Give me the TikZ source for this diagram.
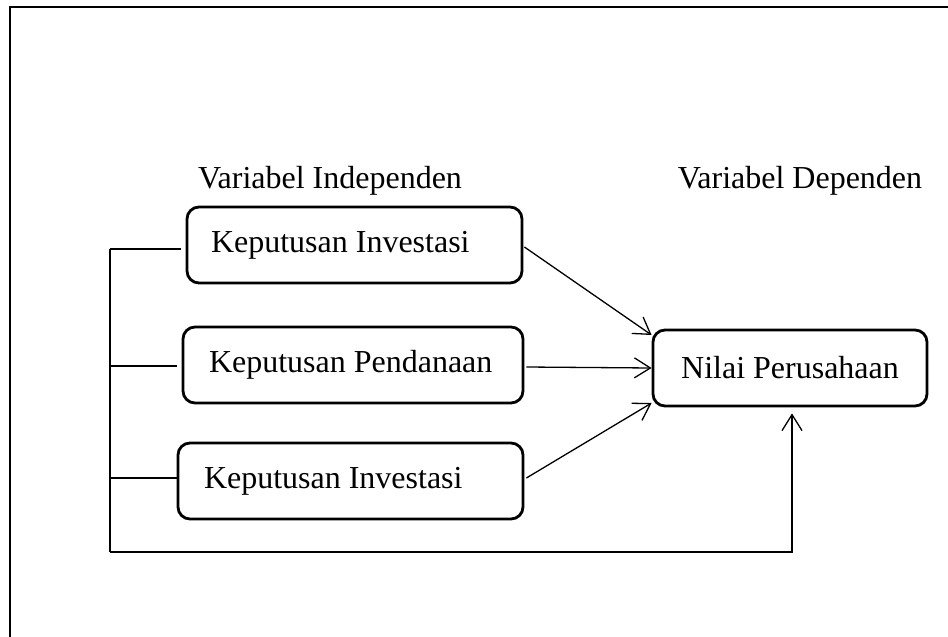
\documentclass[tikz,border=0pt]{standalone}
\usepackage{fontspec}
\setmainfont{Liberation Serif}
\usetikzlibrary{arrows.meta,calc}
\newcommand{\boxtext}[3]{\makebox[#1][l]{\hspace{#2}#3}}
\begin{document}
\begin{tikzpicture}[x=1pt,y=-1pt,
  box/.style={draw,line width=2.8pt,rounded corners=12pt,minimum height=76pt,inner xsep=0pt,font=\fontsize{32}{36}\selectfont},
  conn/.style={line width=1.3pt},
  arr/.style={conn,-{Straight Barb[length=16pt,width=20pt,line width=1.3pt]}},
  lbl/.style={font=\fontsize{32}{36}\selectfont}]
\useasboundingbox (0,0) rectangle (948,637);
% frame
\draw[line width=2.8pt] (10,637) -- (10,7) -- (950,7);
% labels
\node[lbl] (li) at (330,181) {Variabel Independen};
\node[lbl] (ld) at (800,181) {Variabel Dependen};
% boxes
\node[box] (k1) at (354.5,245) {\boxtext{335pt}{24pt}{Keputusan Investasi}};
\node[box] (k2) at (353,365) {\boxtext{340pt}{26pt}{Keputusan Pendanaan}};
\node[box] (k3) at (350.5,481) {\boxtext{345pt}{26pt}{Keputusan Investasi}};
\node[box,minimum width=274pt] (t) at (790,368) {Nilai Perusahaan};
% bus
\coordinate (b1) at (110,249);
\coordinate (b2) at (110,366);
\coordinate (b3) at (110,478);
\coordinate (b4) at (110,552);
\coordinate (b5) at (792,552);
\draw[conn] (b1) -- (b4);
\draw[conn,shorten >=5pt] (b1) -- (b1 -| k1.west);
\draw[conn,shorten >=5pt] (b2) -- (b2 -| k2.west);
\draw[conn] (b3) -- (b3 -| k3.west);
\draw[arr] (b4) -- (b5) -- (b5 |- t.south) [shorten >=6pt];
% arrows
\draw[arr] ($(k1.east)+(1,2)$) -- ($(t.west)+(0,-33)$);
\draw[arr] ($(k2.east)+(2,2)$) -- ($(t.west)+(0,0)$);
\draw[arr] ($(k3.east)+(2,-3)$) -- ($(t.west)+(0,35)$);
\end{tikzpicture}
\end{document}
